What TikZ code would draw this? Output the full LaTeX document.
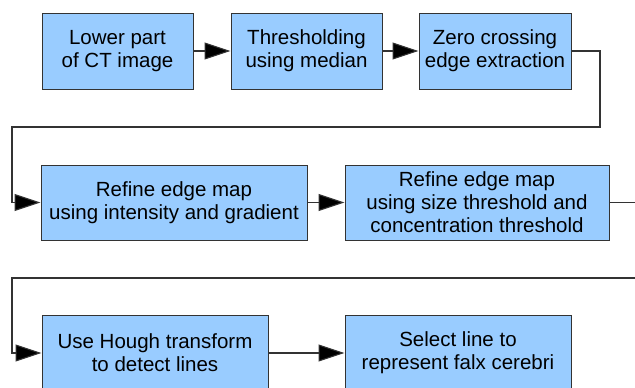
\documentclass[tikz,border=0pt]{standalone}
\usepackage{fontspec}
\setmainfont{Liberation Sans}
\usetikzlibrary{arrows.meta}
\definecolor{boxblue}{HTML}{99CCFF}
\definecolor{edgegray}{HTML}{333333}
\tikzset{
  stepbox/.style={draw=edgegray, line width=1pt, fill=boxblue, align=center,
    inner sep=0pt, font=\fontsize{20.5}{23}\selectfont},
  conn/.style={draw=edgegray, line width=1.1pt,
    -{Triangle[length=26pt,width=17pt,fill=black]}},
}
\begin{document}
\begin{tikzpicture}[x=1pt,y=-1pt]
\useasboundingbox (0,0) rectangle (635,388);
\clip (0,0) rectangle (635,388);
\node[stepbox, minimum width=151pt, minimum height=76pt] (b1) at (117.5,51) {Lower part\\of CT image};
\node[stepbox, minimum width=151pt, minimum height=76pt] (b2) at (306.5,51) {Thresholding\\using median};
\node[stepbox, minimum width=152pt, minimum height=76pt] (b3) at (495,51) {Zero crossing\\edge extraction};
\node[stepbox, minimum width=266pt, minimum height=75pt] (b4) at (174,202.5) {Refine edge map\\using intensity and gradient};
\node[stepbox, minimum width=264pt, minimum height=75pt] (b5) at (477,202.5) {Refine edge map\\using size threshold and\\concentration threshold};
\node[stepbox, minimum width=226pt, minimum height=76pt] (b6) at (155,353) {Use Hough transform\\to detect lines};
\node[stepbox, minimum width=226pt, minimum height=76pt] (b7) at (458,353) {Select line to\\represent falx cerebri};
\coordinate (c1) at (600,127);
\coordinate (c2) at (12,127);
\coordinate (c3) at (650,278);
\coordinate (c4) at (12,278);
\draw[conn] (b1.east) -- (b2.west);
\draw[conn] (b2.east) -- (b3.west);
\draw[conn] (b3.east) -| (c1) -- (c2) |- (b4.west);
\draw[conn] (b4.east) -- (b5.west);
\draw[conn] (b5.east) -| (c3) -- (c4) |- (b6.west);
\draw[conn] (b6.east) -- (b7.west);
\end{tikzpicture}
\end{document}
